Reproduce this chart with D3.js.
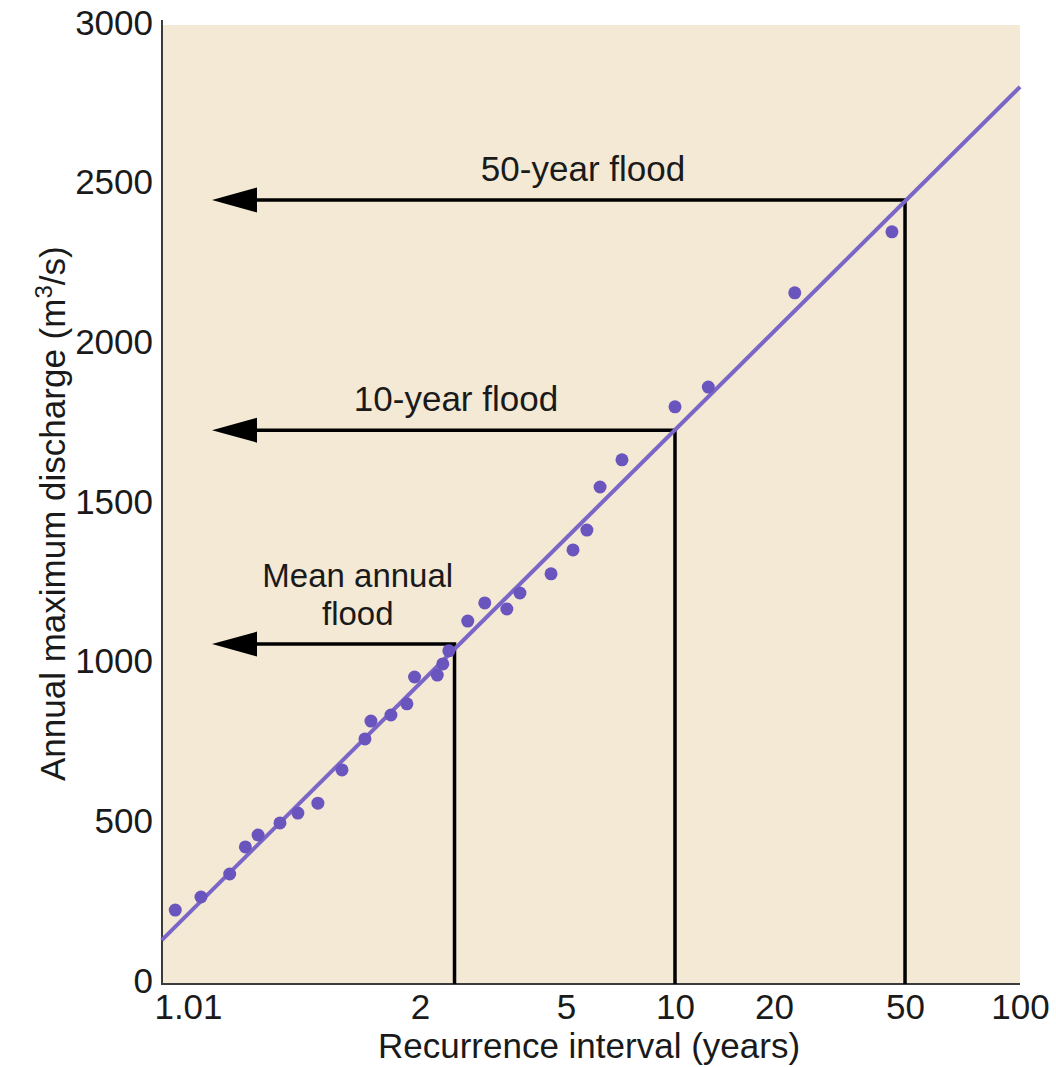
<!DOCTYPE html>
<html><head><meta charset="utf-8">
<script src="https://cdn.jsdelivr.net/npm/d3@7"></script>
<style>
body{margin:0;background:#fff}
svg{display:block}
text{font-family:"Liberation Sans",Arial,Helvetica,sans-serif;fill:#1a1a1a}
</style>
</head><body>
<svg id="c" width="1056" height="1067"></svg>
<script>
// ---- data ----
const xTicks = [1.01, 2, 5, 10, 20, 50, 100];
const yTicks = [0, 500, 1000, 1500, 2000, 2500, 3000];
const recurrence = [1.006, 1.016, 1.039, 1.059, 1.080, 1.128, 1.180, 1.254, 1.369, 1.509,
  1.551, 1.71, 1.86, 1.94, 2.20, 2.27, 2.35, 2.63, 2.92, 3.36,
  3.66, 4.51, 5.22, 5.69, 6.18, 7.10, 10.0, 12.6, 23.1, 45.6];
const discharge = [222, 263, 335, 420, 457, 495, 526, 557, 661, 758,
  814, 833, 868, 952, 958, 993, 1034, 1127, 1184, 1165,
  1215, 1275, 1350, 1412, 1547, 1632, 1798, 1860, 2155, 2346];
const fitT = [1.0033, 100];
const fitQ = [128, 2800];
const floodNames = [["Mean annual", "flood"], ["10-year flood"], ["50-year flood"]];
const floodT = [2.43, 10, 50];
const floodQ = [1055, 1725, 2446];

// ---- layout ----
const W = 1056, H = 1067;
const left = 162, right = 1020, yTop = 23, yZero = 981, axisY = 984;
const xTickFrac = [0.0303, 0.3007, 0.4709, 0.5979, 0.7133, 0.866, 1.0];
const FS = 35;

const gumbel = T => -Math.log(-Math.log(1 - 1 / T));
const xg = d3.scaleLinear()
  .domain(xTicks.map(gumbel))
  .range(xTickFrac.map(f => left + f * (right - left)));
const X = T => xg(gumbel(T));
const y = d3.scaleLinear().domain([0, 3000]).range([yZero, yTop]);

const svg = d3.select("#c");

// background panel
svg.append("rect").attr("x", left + 1).attr("y", 25)
  .attr("width", right - left - 1).attr("height", axisY - 25)
  .attr("fill", "#f4e9d4");

// axes
const ax = svg.append("g").attr("transform", `translate(0,${axisY})`)
  .call(d3.axisBottom(xg).tickValues(xTicks.map(gumbel)).tickSize(0).tickPadding(10)
    .tickFormat((d, i) => xTicks[i]));
const ay = svg.append("g").attr("transform", `translate(${left},0)`)
  .call(d3.axisLeft(y).tickValues(yTicks).tickSize(0).tickPadding(9).tickFormat(d3.format("d")));
[ax, ay].forEach(g => {
  g.select(".domain").remove();
  g.selectAll("text").attr("font-size", FS).attr("font-family", null).style("fill", "#1a1a1a");
});
svg.append("line").attr("x1", left).attr("x2", left).attr("y1", 20).attr("y2", axisY + 1)
  .attr("stroke", "#3b3b3b").attr("stroke-width", 2);
svg.append("line").attr("x1", left - 1).attr("x2", right).attr("y1", axisY).attr("y2", axisY)
  .attr("stroke", "#3b3b3b").attr("stroke-width", 2);

// axis titles
svg.append("text").attr("x", 589).attr("y", 1058).attr("text-anchor", "middle")
  .attr("font-size", FS).text("Recurrence interval (years)");
const yt = svg.append("text").attr("transform", "translate(65,781) rotate(-90)")
  .attr("font-size", FS);
yt.append("tspan").text("Annual maximum discharge (m");
yt.append("tspan").attr("font-size", 24).attr("dy", -13).text("3");
yt.append("tspan").attr("dy", 13).text("/s)");

// flood annotations
const tipX = left + 50, baseX = left + 95;
floodT.forEach((T, i) => {
  const px = X(T), py = y(floodQ[i]);
  svg.append("path")
    .attr("d", `M${baseX - 6},${py}H${px}V${axisY}`)
    .attr("fill", "none").attr("stroke", "#000").attr("stroke-width", 3.5)
    .attr("stroke-linejoin", "miter");
  svg.append("path")
    .attr("d", `M${tipX},${py}L${baseX},${py - 12.5}L${baseX},${py + 12.5}Z`)
    .attr("fill", "#000");
  const lines = floodNames[i];
  const cx = i === 1 ? (baseX + px) / 2 - 10 : (baseX + px) / 2 + 2;
  const fs = lines.length > 1 ? 33 : FS;
  const lh = 38;
  lines.forEach((s, j) => {
    svg.append("text").attr("x", cx)
      .attr("y", py - 19 - (lines.length - 1 - j) * lh)
      .attr("text-anchor", "middle").attr("font-size", fs).text(s);
  });
});

// fitted line
svg.append("line")
  .attr("x1", X(fitT[0])).attr("y1", y(fitQ[0]))
  .attr("x2", X(fitT[1])).attr("y2", y(fitQ[1]))
  .attr("stroke", "#7a66c6").attr("stroke-width", 4);

// observed points
svg.append("g").selectAll("circle").data(recurrence).join("circle")
  .attr("cx", d => X(d)).attr("cy", (d, i) => y(discharge[i]))
  .attr("r", 6.5).attr("fill", "#6a55bf");
</script>
</body></html>
